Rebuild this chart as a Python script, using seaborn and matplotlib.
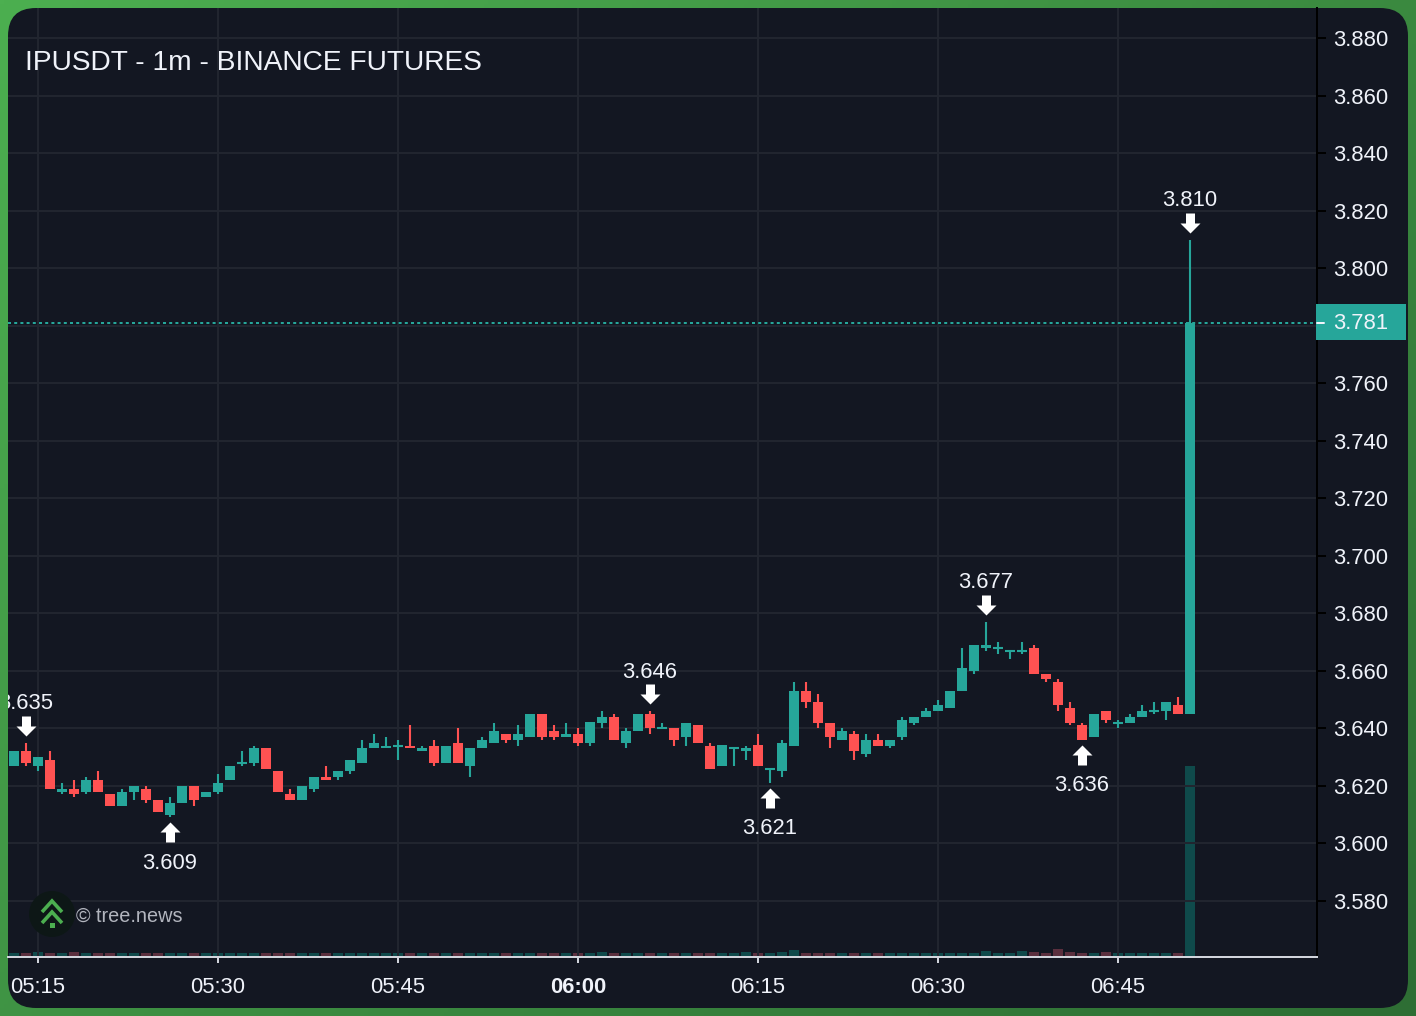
import numpy as np
import pandas as pd
import matplotlib
matplotlib.use("Agg")
import matplotlib.pyplot as plt
import seaborn as sns
from matplotlib.markers import MarkerStyle
from matplotlib.patches import Circle, FancyBboxPatch, Rectangle
from matplotlib.path import Path

# minutes after 05:15, one candle per minute
minutes = list(range(-2, 97))

opens = [3.627, 3.632, 3.627, 3.629, 3.618, 3.619, 3.618, 3.622, 3.617, 3.613,
         3.618, 3.619, 3.615, 3.610, 3.614, 3.620, 3.616, 3.618, 3.622, 3.628,
         3.628, 3.633, 3.625, 3.617, 3.615, 3.619, 3.623, 3.623, 3.625, 3.628,
         3.633, 3.633, 3.634, 3.634, 3.632, 3.634, 3.628, 3.635, 3.627, 3.633,
         3.635, 3.638, 3.636, 3.637, 3.645, 3.639, 3.637, 3.638, 3.635, 3.642,
         3.644, 3.635, 3.639, 3.645, 3.640, 3.640, 3.637, 3.641, 3.634, 3.627,
         3.633, 3.632, 3.634, 3.626, 3.625, 3.634, 3.653, 3.649, 3.642, 3.636,
         3.638, 3.631, 3.636, 3.634, 3.637, 3.642, 3.644, 3.646, 3.647, 3.653,
         3.660, 3.668, 3.668, 3.667, 3.667, 3.668, 3.659, 3.656, 3.647, 3.641,
         3.637, 3.646, 3.642, 3.642, 3.644, 3.646, 3.646, 3.648, 3.645]
closes = [3.632, 3.628, 3.630, 3.619, 3.619, 3.617, 3.622, 3.618, 3.613, 3.618,
          3.620, 3.615, 3.611, 3.614, 3.620, 3.615, 3.618, 3.621, 3.627, 3.628,
          3.633, 3.626, 3.618, 3.615, 3.620, 3.623, 3.622, 3.625, 3.629, 3.633,
          3.635, 3.634, 3.634, 3.633, 3.633, 3.628, 3.634, 3.628, 3.633, 3.636,
          3.639, 3.636, 3.638, 3.645, 3.637, 3.637, 3.638, 3.635, 3.642, 3.644,
          3.636, 3.639, 3.645, 3.640, 3.640, 3.636, 3.642, 3.635, 3.626, 3.634,
          3.633, 3.633, 3.627, 3.626, 3.635, 3.653, 3.649, 3.642, 3.637, 3.639,
          3.632, 3.636, 3.634, 3.636, 3.643, 3.644, 3.646, 3.648, 3.653, 3.661,
          3.669, 3.669, 3.668, 3.667, 3.667, 3.659, 3.657, 3.648, 3.642, 3.636,
          3.645, 3.643, 3.642, 3.644, 3.646, 3.646, 3.649, 3.645, 3.781]
highs = [3.632, 3.635, 3.630, 3.632, 3.621, 3.622, 3.623, 3.625, 3.617, 3.619,
         3.620, 3.620, 3.615, 3.616, 3.620, 3.620, 3.618, 3.624, 3.627, 3.632,
         3.634, 3.633, 3.625, 3.619, 3.620, 3.623, 3.627, 3.625, 3.629, 3.636,
         3.638, 3.637, 3.636, 3.641, 3.634, 3.636, 3.634, 3.640, 3.633, 3.637,
         3.642, 3.638, 3.641, 3.645, 3.645, 3.641, 3.642, 3.640, 3.642, 3.646,
         3.645, 3.640, 3.645, 3.646, 3.642, 3.640, 3.642, 3.641, 3.635, 3.634,
         3.633, 3.634, 3.638, 3.626, 3.636, 3.656, 3.656, 3.652, 3.642, 3.640,
         3.639, 3.638, 3.638, 3.636, 3.644, 3.644, 3.647, 3.650, 3.653, 3.668,
         3.669, 3.677, 3.670, 3.667, 3.670, 3.669, 3.659, 3.657, 3.649, 3.642,
         3.645, 3.646, 3.643, 3.645, 3.648, 3.649, 3.649, 3.651, 3.810]
lows = [3.627, 3.627, 3.625, 3.619, 3.617, 3.616, 3.617, 3.618, 3.613, 3.613,
        3.615, 3.614, 3.611, 3.609, 3.614, 3.613, 3.616, 3.617, 3.622, 3.627,
        3.627, 3.626, 3.618, 3.615, 3.615, 3.618, 3.622, 3.622, 3.624, 3.628,
        3.633, 3.633, 3.629, 3.633, 3.632, 3.627, 3.628, 3.628, 3.623, 3.633,
        3.635, 3.635, 3.634, 3.637, 3.636, 3.636, 3.637, 3.634, 3.634, 3.640,
        3.636, 3.633, 3.639, 3.638, 3.640, 3.634, 3.634, 3.635, 3.626, 3.627,
        3.627, 3.629, 3.627, 3.621, 3.623, 3.634, 3.647, 3.640, 3.633, 3.636,
        3.629, 3.630, 3.634, 3.633, 3.636, 3.641, 3.644, 3.646, 3.647, 3.653,
        3.659, 3.667, 3.666, 3.664, 3.666, 3.659, 3.656, 3.646, 3.641, 3.636,
        3.637, 3.642, 3.640, 3.642, 3.644, 3.645, 3.643, 3.645, 3.645]
volumes = [2.5, 3, 4, 2.5, 2.5, 3.5, 2.5, 2.5, 2.5, 2.5,
           2.5, 2.5, 2.5, 2.5, 2.5, 2.5, 2.5, 3, 2.5, 2.5,
           2.5, 2.5, 2.5, 2.5, 3, 2.5, 2.5, 2.5, 2.5, 2.5,
           2.5, 2.5, 2.5, 2.5, 2.5, 2.5, 2.5, 2.5, 2.5, 2.5,
           2.5, 2.5, 2.5, 2.5, 2.5, 2.5, 2.5, 2.5, 2.5, 3.5,
           2.5, 2.5, 2.5, 2.5, 2.5, 2.5, 2.5, 2.5, 2.5, 2.5,
           2.5, 3.5, 2.5, 2.5, 3.5, 6, 3, 2.5, 2.5, 2.5,
           2.5, 2.5, 2.5, 2.5, 2.5, 2.5, 2.5, 2.5, 2.5, 3,
           2.5, 5, 2.5, 2.5, 5, 3.5, 2.5, 7, 3.5, 2.5,
           2.5, 3.5, 2.5, 2.5, 2.5, 2.5, 2.5, 2.5, 190]

# swing labels: minute, price, side
swing_minutes = [-1, 11, 51, 61, 79, 87, 96]
swing_prices = [3.635, 3.609, 3.646, 3.621, 3.677, 3.636, 3.810]
swing_sides = ["high", "low", "high", "low", "high", "low", "high"]

price_ticks = [3.58, 3.60, 3.62, 3.64, 3.66, 3.68, 3.70, 3.72, 3.74, 3.76,
               3.78, 3.80, 3.82, 3.84, 3.86, 3.88]
time_ticks = [0, 15, 30, 45, 60, 75, 90]
time_labels = ["05:15", "05:30", "05:45", "06:00", "06:15", "06:30", "06:45"]

UP = "#26a69a"
DOWN = "#ff5252"
UP_VOL = "#0f4a4b"
DOWN_VOL = "#5b2f3e"
PANEL = "#131722"
GRID = "#21252f"
TEXT = "#f0f3fa"
W, H = 1416, 1016
PX = 0.72  # points per pixel at dpi 100
Y_REF = 38.25  # pixel row of 3.880

sns.set_theme(style="dark")
plt.rcParams["font.family"] = ["Liberation Sans", "DejaVu Sans"]

df = pd.DataFrame({"minute": minutes, "open": opens, "close": closes,
                   "high": highs, "low": lows, "volume": volumes})
df["up"] = df["close"] >= df["open"]
df["bottom"] = df[["open", "close"]].min(axis=1)
df["body"] = (df["close"] - df["open"]).abs()

fig = plt.figure(figsize=(W / 100, H / 100), dpi=100)

# green backdrop and rounded panel
ax_bg = fig.add_axes([0, 0, 1, 1], zorder=0)
xx, yy = np.meshgrid(np.linspace(0, 1, 354), np.linspace(0, 1, 254))
t = ((xx * W + yy * H) / (W + H))[..., None]
ax_bg.imshow(np.array([76, 175, 80]) / 255 * (1 - t) + np.array([46, 110, 52]) / 255 * t,
             extent=[0, W, H, 0], aspect="auto")
ax_bg.add_patch(FancyBboxPatch((8, 8), 1400, 1000, boxstyle="round,pad=0,rounding_size=28",
                               fc=PANEL, ec="none"))
ax_bg.set_xlim(0, W)
ax_bg.set_ylim(H, 0)
ax_bg.axis("off")

ax = fig.add_axes([8 / W, (H - 957) / H, 1309 / W, 949 / H], zorder=2)
ax.patch.set_visible(False)
ax_vol = ax.twinx()
ax_vol.set_zorder(1)

for is_up, col, vol_col in [(True, UP, UP_VOL), (False, DOWN, DOWN_VOL)]:
    sub = df[df["up"] == is_up]
    sns.barplot(data=sub, x="minute", y="volume", native_scale=True, width=10 / 12,
                color=vol_col, saturation=1, errorbar=None, linewidth=0, ax=ax_vol)
    ax.vlines(sub["minute"], sub["low"], sub["high"], color=col, lw=1.5, zorder=3)
    candles = sub[sub["body"] > 0]
    sns.barplot(x=candles["minute"].values, y=candles["body"].values, bottom=candles["bottom"].values,
                native_scale=True, width=10 / 12, color=col, saturation=1, errorbar=None,
                linewidth=0, ax=ax, zorder=4)
    flat = sub[sub["body"] == 0]
    ax.hlines(flat["open"], flat["minute"] - 5 / 12, flat["minute"] + 5 / 12, color=col, lw=1.5, zorder=4)

ax_vol.set_ylim(-1.5, 947.5)
ax_vol.axis("off")

xlims = (-2.5, 106.583)
ylims = (3.88 - (957 - Y_REF) / 2875, 3.88 + (Y_REF - 8) / 2875)
ax.set_xlim(*xlims)
ax.set_ylim(*ylims)
ax.set_xlabel("")
ax.set_ylabel("")
ax.set_axisbelow(True)

ax.set_xticks(time_ticks)
ax.set_xticklabels(time_labels)
ax.get_xticklabels()[3].set_fontweight("bold")
ax.yaxis.tick_right()
ax.set_yticks(price_ticks)
# 3.780 sits under the last price tag, so its label stays empty
ax.set_yticklabels(["" if p == 3.78 else f"{p:.3f}" for p in price_ticks])
ax.grid(True, color=GRID, lw=1.44)
ax.tick_params(axis="x", bottom=True, length=6 * PX, width=1.44, color="#d1d4dc", pad=10,
               labelsize=22 * PX, labelcolor=TEXT)
ax.tick_params(axis="y", right=True, left=False, length=9 * PX, width=1.44, color="black", pad=5.4,
               labelsize=22 * PX, labelcolor=TEXT)
for side in ["left", "top"]:
    ax.spines[side].set_visible(False)
ax.spines["right"].set_color("black")
ax.spines["right"].set_linewidth(1.44)
ax.spines["bottom"].set_color("#d1d4dc")
ax.spines["bottom"].set_linewidth(1.44)

# swing arrows and labels; marker paths are anchored on the wick tip
down_arrow = Path([(-4.5, 27), (4.5, 27), (4.5, 17), (10, 17), (0, 7), (-10, 17), (-4.5, 17), (-4.5, 27)], closed=True)
up_arrow = Path([(-4.5, -25), (4.5, -25), (4.5, -15), (10, -15), (0, -5), (-10, -15), (-4.5, -15), (-4.5, -25)], closed=True)
for m, p, side in zip(swing_minutes, swing_prices, swing_sides):
    is_high = side == "high"
    marker_r = 27 if is_high else 25
    sns.scatterplot(x=[m - 0.04], y=[p], marker=MarkerStyle(down_arrow if is_high else up_arrow),
                    s=(2 * marker_r * PX) ** 2, color="white", linewidth=0, ax=ax, zorder=5, legend=False)
    ax.annotate(f"{p:.3f}", xy=(m, p), xytext=(0, (39 if is_high else -46) * PX),
                textcoords="offset points", ha="center", va="center", fontsize=22 * PX,
                color=TEXT, clip_on=True, zorder=6)
ax.set_xlim(*xlims)
ax.set_ylim(*ylims)

# last price line and tag
last = closes[-1]
ax.axhline(last, color=UP, lw=1.44, ls=(0, (1.5, 1.6)), zorder=2)
tag_tr = ax.get_yaxis_transform()
ax.add_patch(Rectangle((1308 / 1309, last - 17 / 2875), 90 / 1309, 36 / 2875, transform=tag_tr,
                       fc=UP, ec="none", clip_on=False, zorder=10))
ax.plot([1309 / 1309, 1316 / 1309], [last, last], transform=tag_tr, color=TEXT, lw=1.44,
        clip_on=False, zorder=11)
ax.text(1325.5 / 1309, last - 1 / 2875, f"{last:.3f}", transform=tag_tr, color=TEXT, fontsize=22 * PX,
        va="center", ha="left", clip_on=False, zorder=11)

# title and watermark in pixel coordinates
ax_px = fig.add_axes([0, 0, 1, 1], zorder=3)
ax_px.set_xlim(0, W)
ax_px.set_ylim(H, 0)
ax_px.axis("off")
ax_px.text(25, 63, "IPUSDT - 1m - BINANCE FUTURES", fontsize=28.12 * PX, color=TEXT, va="center", ha="left")
ax_px.text(76, 916.5, "© tree.news", fontsize=19.9 * PX, color="#b2b5be", va="center", ha="left")
ax_px.add_patch(Circle((52, 914), 23, fc="#0d1716", ec="none"))
for y_tip in [901, 912]:
    ax_px.plot([42, 52, 62], [y_tip + 11, y_tip, y_tip + 11], color="#4caf50", lw=2.6, solid_capstyle="butt",
               solid_joinstyle="miter")
ax_px.add_patch(Rectangle((50, 923), 4.5, 5, fc="#4caf50", ec="none"))

fig.savefig("out.png", dpi=100)
